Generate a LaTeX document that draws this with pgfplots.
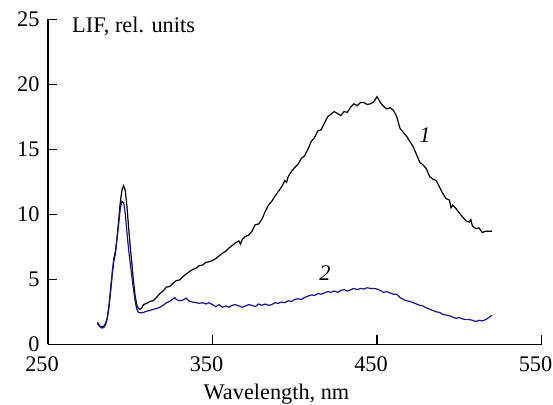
\documentclass[border=0pt]{standalone}
\usepackage{fontspec}
\setmainfont{Liberation Serif}
\usepackage{pgfplots}
\pgfplotsset{compat=1.18}
\definecolor{curveblue}{RGB}{22,22,140}
\newcommand{\lbl}{\fontsize{22.3bp}{25bp}\selectfont}

\begin{document}
\begin{tikzpicture}
  \useasboundingbox (-48bp,-60.7bp) rectangle (505bp,344.3bp);
  \begin{axis}[
      scale only axis,
      width=493.5bp, height=325bp,
      xmin=250, xmax=550, ymin=0, ymax=25,
      axis x line=bottom, axis y line=left,
      axis line style={-, line width=1.4bp, black},
      xtick={250,350,450,550}, ytick={0,5,10,15,20,25},
      minor tick num=0,
      tick align=inside,
      major tick length=9bp,
      tick style={line width=1.4bp, black},
      /pgf/number format/assume math mode=true,
      tick label style={font=\lbl},
      x tick label style={xshift=-6bp, yshift=-9bp},
      y tick label style={xshift=-5bp},
      xlabel={Wavelength, nm},
      xlabel style={font=\lbl, at={(axis description cs:0.463,0)}, anchor=base, yshift=-54.7bp, inner sep=0pt},
      clip=false,
    ]
    % curve 1
    \addplot[black, line width=1.2bp] coordinates {
      (280,1.6)(281,1.45)(282,1.35)(283,1.35)(284,1.4)(285,1.6)(286,2.0)(287,2.8)(288,4.0)(289,5.3)
      (290,6.4)(291,7.0)(292,8.2)(293,9.6)(294,11.0)(295,11.9)(296,12.2)(297,11.8)(298,10.6)(299,9.0)
      (300,7.5)(301,6.2)(302,4.8)(303,3.7)(304,3.0)(305,2.75)(306,2.7)(307,2.8)(308,3.05)(309,3.1)
      (310,3.15)(312,3.3)(314,3.35)(316,3.6)(318,3.9)(320,4.1)(322,4.4)(324,4.45)(326,4.7)(328,4.9)
      (330,4.95)(332,5.2)(334,5.4)(336,5.6)(338,5.75)(340,5.85)(342,6.05)(344,6.1)(346,6.3)(348,6.35)
      (350,6.45)(352,6.6)(354,6.8)(356,7.0)(358,7.15)(360,7.4)(362,7.6)(364,7.8)(366,7.95)(367,7.7)
      (368,8.05)(370,8.3)(372,8.4)(374,8.7)(376,9.2)(378,9.25)(380,9.6)(382,10.2)(384,10.7)(386,11.0)
      (388,11.4)(390,11.75)(392,12.1)(394,12.6)(395,12.45)(396,12.9)(398,13.3)(400,13.6)(402,13.85)(404,14.3)
      (406,14.5)(408,15.0)(410,15.6)(412,15.9)(414,16.4)(416,16.5)(418,17.0)(420,17.5)(422,17.7)(424,17.9)
      (426,17.75)(428,17.6)(430,17.9)(432,17.85)(434,18.25)(436,18.5)(438,18.35)(440,18.6)(442,18.6)(444,18.45)
      (446,18.5)(448,18.65)(450,19.05)(452,18.6)(454,18.3)(456,18.1)(458,18.2)(460,18.0)(462,17.5)(464,16.6)
      (466,16.3)(468,16.0)(470,15.6)(472,15.2)(474,14.6)(476,14.0)(478,13.8)(480,13.5)(482,12.9)(484,12.7)
      (486,12.6)(488,12.1)(490,11.6)(492,11.2)(494,11.1)(495,10.5)(496,10.7)(498,10.45)(500,10.1)(502,9.8)
      (504,9.5)(506,9.4)(507,9.6)(508,9.1)(510,8.9)(512,8.95)(514,8.6)(516,8.7)(518,8.7)(520,8.7)
    };
    % curve 2
    \addplot[curveblue, line width=1.2bp] coordinates {
      (280,1.7)(281,1.5)(282,1.3)(283,1.25)(284,1.3)(285,1.5)(286,2.0)(287,2.9)(288,4.2)(289,5.5)
      (290,6.6)(291,7.2)(292,8.2)(293,9.3)(294,10.5)(295,11.0)(296,10.9)(297,10.0)(298,8.6)(299,7.3)
      (300,6.2)(301,5.2)(302,4.2)(303,3.3)(304,2.7)(305,2.45)(306,2.42)(308,2.45)(310,2.55)(312,2.6)
      (314,2.7)(316,2.75)(318,2.85)(320,3.0)(322,3.2)(324,3.3)(326,3.5)(327,3.6)(328,3.45)(330,3.35)
      (332,3.4)(334,3.55)(336,3.3)(338,3.25)(340,3.2)(342,3.15)(344,3.2)(346,3.1)(348,3.2)(350,3.05)
      (352,2.9)(354,3.05)(356,2.85)(358,2.95)(360,2.85)(362,3.0)(364,3.05)(366,2.95)(368,2.85)(370,2.95)
      (372,3.05)(374,3.0)(376,2.9)(378,3.1)(380,3.0)(382,3.1)(384,3.0)(386,3.05)(388,3.2)(390,3.15)
      (392,3.25)(394,3.2)(396,3.35)(398,3.3)(400,3.45)(402,3.5)(404,3.45)(406,3.6)(408,3.7)(410,3.8)
      (412,3.75)(414,3.9)(416,3.85)(418,3.95)(420,4.05)(422,4.0)(424,4.1)(426,4.0)(428,4.15)(430,4.2)
      (432,4.1)(434,4.2)(436,4.3)(438,4.2)(440,4.3)(442,4.25)(444,4.35)(446,4.3)(448,4.3)(450,4.25)
      (452,4.15)(454,4.0)(456,4.05)(458,3.95)(460,3.85)(462,3.85)(464,3.6)(466,3.45)(468,3.35)(470,3.3)
      (472,3.2)(474,3.1)(476,3.0)(478,2.95)(480,2.8)(482,2.7)(484,2.6)(486,2.5)(488,2.45)(490,2.3)
      (492,2.25)(494,2.2)(496,2.1)(498,2.0)(500,2.05)(502,1.95)(504,1.9)(506,1.9)(508,1.85)(510,1.75)
      (512,1.85)(514,1.8)(516,1.9)(518,2.05)(520,2.25)
    };
    \node[anchor=base west, inner sep=0pt, font=\lbl] at (axis cs:264.6,23.95) {LIF, rel. units};
    \node[font=\lbl\itshape] at (axis cs:479.2,16.1) {1};
    \node[font=\lbl\itshape] at (axis cs:418.4,5.46) {2};
  \end{axis}
\end{tikzpicture}
\end{document}
